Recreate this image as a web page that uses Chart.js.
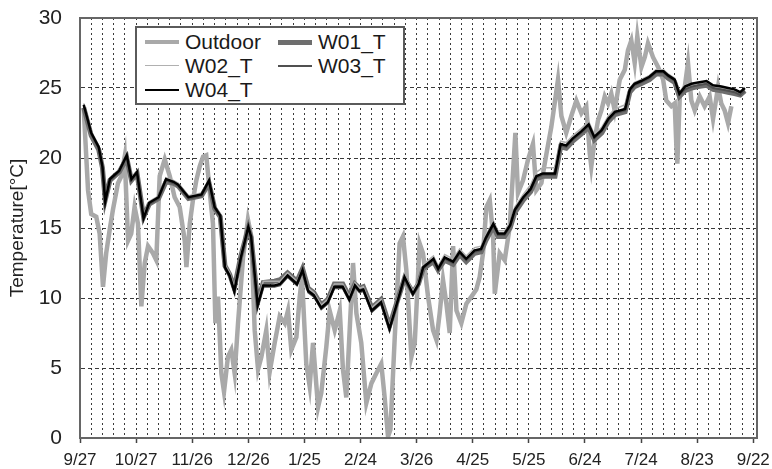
<!DOCTYPE html>
<html>
<head>
<meta charset="utf-8">
<script src="https://cdn.jsdelivr.net/npm/chart.js@4.4.1/dist/chart.umd.min.js"></script>
<style>
  html, body { margin: 0; padding: 0; background: #fff; }
  #wrap { position: relative; width: 772px; height: 469px; }
  #legend { position: absolute; left: 135px; top: 26px; width: 266px; height: 75px;
    border: 2px solid #5a5a5a; background: #fff; font-family: "Liberation Sans", Arial, sans-serif;
    font-size: 21px; color: #1a1a1a; }
  .li { position: absolute; height: 24px; line-height: 24px; white-space: nowrap; }
  .sw { position: absolute; top: 50%; left: 0; width: 34px; }
  .tx { position: absolute; left: 40px; top: 0; }
</style>
</head>
<body>
<div id="wrap">
  <canvas id="c" width="772" height="469"></canvas>
  <div id="legend"></div>
</div>
<script>
// ---- tick labels (x axis, every 30 days from 9/27) ----
const xTickLabels = ['9/27','10/27','11/26','12/26','1/25','2/24','3/26','4/25','5/25','6/24','7/24','8/23','9/22'];
const seriesNames = ['Outdoor','W01_T','W02_T','W03_T','W04_T'];

// ---- outdoor temperature: days since 9/27, value [°C] ----
const outdoorDays = [2,4.3,6,8.7,10.5,12.3,14,15.9,17.6,20.3,22.1,23.9,25.7,27.4,29.2,31,32.8,34.6,36.4,39,
  40.8,42.6,45.3,48,50.6,53.3,56,56.9,58.7,60.4,62.2,64,65.8,67.5,69.3,71.1,72.4,73.8,75.6,77,
  79.1,80.9,82.7,84.5,87.2,89.8,91.6,93.4,95.2,97,99.6,101.4,104.1,106.8,109.5,111.2,113,115.7,117.5,118.7,
  121,122.8,124.6,127.3,129,131.7,133.5,136.2,138.9,140.6,142.4,144.2,146,147.8,150.4,153.1,155.8,158.4,161.1,162.9,
  164.7,166,168.3,170.9,172.7,174.5,177.2,179,181.6,183.4,186.1,188.8,190.6,192.3,194.1,195.9,197.7,199.5,201.3,203.9,
  206.6,209.3,211.9,213.7,215.5,217.3,219.1,220.9,221.8,224.4,227.1,229.8,231.6,232.8,234.2,236.9,239.6,242.2,244,246.7,
  249.4,252,253.8,255.6,257.4,260,262.7,265.4,268.1,270.7,272.6,273.4,275.2,277,278.8,280.6,282.4,284.1,285.9,288.6,
  291.3,293,294.8,296.6,298,300.2,302,303.7,306.4,309.1,311.8,313.5,316.2,318,318.9,319.4,320.7,323.4,325.1,326.9,
  328.7,331.4,334,336.7,338.5,341.2,342.9,344.7,346.5,348.3];
const outdoorTemp = [23.5,17.7,16.0,15.8,14.6,10.8,13.2,14.9,16.3,18.2,18.7,20.1,14.1,14.6,16.5,15.3,9.4,12.5,13.7,13.2,
  12.7,18.7,19.9,18.7,17.2,16.5,14.1,12.2,15.3,17.0,18.4,19.4,20.1,20.2,17.7,15.3,8.2,10.1,4.6,3.3,
  5.8,6.3,4.6,8.2,12.9,15.6,14.4,7.7,4.9,5.8,7.7,4.7,6.8,8.7,8.2,9.1,6.3,7.2,10.1,11.5,
  5.3,3.7,6.8,2.2,3.2,6.5,9.1,7.7,9.1,4.9,2.9,7.7,12.5,8.9,6.8,2.5,3.9,4.6,5.3,2.9,
  0.1,0.6,7.2,13.9,14.4,12.0,5.8,6.8,13.9,13.2,10.1,7.7,7.0,8.9,11.3,9.6,7.5,13.7,9.1,8.2,
  9.6,10.1,10.6,11.5,13.2,16.5,17.0,14.4,10.3,13.2,12.7,15.1,19.1,21.8,17.5,18.4,19.9,21.0,17.7,18.2,
  20.3,22.2,23.9,25.6,23.0,21.8,23.0,24.1,23.2,23.7,20.3,19.4,21.3,22.7,23.4,24.4,23.9,24.6,23.4,25.6,
  26.3,27.7,28.4,26.8,28.7,26.5,27.2,28.2,27.2,26.5,25.6,24.1,23.7,23.9,20.8,19.6,24.4,25.1,26.8,24.1,
  23.4,24.4,23.7,24.4,22.8,25.1,23.9,23.4,22.5,23.7];

// ---- indoor sensors: days since 9/27, values [°C] ----
const indoorDays = [2,6,10,12,13.5,16,18.5,21,25,27.5,
  30.5,34,37,42,46,50,52.5,58,65,69,
  72,75,77.5,80,82.5,86,90,91.5,95,98,
  104,107,111,116,119,122,125,129,132.5,136,
  140.5,144,147,149.5,151.5,156,161,165.5,169,173.5,
  178,181,183.5,189,191.5,195,199.5,203,206.5,211,
  214.5,217,221,223.5,227,230,232.5,237,241,244,
  247.5,254,257,260,263.5,268,272,275,279,282.5,
  286,291.5,294,296.5,300,304.5,308,312,314.5,318,
  320.5,323.5,327,330.5,335,338.5,343,346.5,350,353,
  355.5];
const w01 = [23.6,21.6,20.6,19.3,17.0,18.4,18.7,19.0,20.0,18.4,
  18.9,15.8,16.7,17.1,18.3,18.2,18.0,17.1,17.3,18.2,
  16.4,15.8,12.3,11.7,10.7,13.0,15.0,14.3,9.7,11.1,
  11.2,11.3,11.8,11.2,12.1,10.7,10.4,9.5,9.9,11.0,
  11.0,10.1,11.0,10.7,10.8,9.3,9.9,8.0,9.5,11.4,
  10.4,11.0,12.1,12.6,12.0,12.7,12.4,13.1,12.6,13.2,
  13.3,14.1,15.1,14.4,14.4,15.0,16.1,17.0,17.6,18.5,
  18.7,18.7,20.8,20.7,21.2,21.7,22.2,21.3,21.8,22.6,
  23.1,23.3,24.7,25.1,25.3,25.6,26.0,26.0,25.7,25.4,
  24.4,24.8,25.0,25.1,25.2,24.9,24.8,24.7,24.6,24.5,
  24.8];
const w02 = [23.9,21.9,20.9,19.5,17.1,18.6,18.9,19.2,20.3,18.6,
  19.1,15.9,16.9,17.3,18.6,18.4,18.2,17.3,17.5,18.5,
  16.6,16.0,12.4,11.8,10.8,13.1,15.2,14.5,9.8,11.2,
  11.2,11.2,11.8,11.2,12.1,10.7,10.4,9.5,9.9,11.0,
  11.0,10.1,11.1,10.7,10.8,9.3,9.9,8.0,9.6,11.7,
  10.5,11.2,12.4,13.0,12.3,13.1,12.8,13.5,13.0,13.6,
  13.7,14.5,15.5,14.8,14.8,15.4,16.5,17.4,18.1,19.0,
  19.3,19.3,21.2,21.1,21.6,22.1,22.6,21.7,22.2,23.0,
  23.5,23.8,25.0,25.4,25.6,25.9,26.3,26.3,26.0,25.7,
  24.8,25.0,25.2,25.3,25.4,25.1,25.0,24.9,24.8,24.6,
  24.9];
const w03 = [23.7,21.7,20.7,19.3,16.8,18.4,18.7,19.0,20.1,18.4,
  18.9,15.6,16.7,17.1,18.4,18.2,18.0,17.1,17.3,18.3,
  16.4,15.8,12.1,11.5,10.4,12.8,15.0,14.3,9.4,10.8,
  10.8,10.9,11.5,10.9,11.9,10.4,10.1,9.2,9.6,10.7,
  10.7,9.8,10.8,10.4,10.5,9.0,9.6,7.7,9.3,11.4,
  10.2,10.9,12.1,12.7,12.0,12.8,12.5,13.2,12.7,13.3,
  13.4,14.2,15.2,14.5,14.5,15.1,16.2,17.1,17.7,18.6,
  18.8,18.8,20.9,20.8,21.3,21.8,22.3,21.4,21.9,22.7,
  23.2,23.4,24.8,25.2,25.4,25.7,26.1,26.1,25.8,25.5,
  24.5,24.9,25.1,25.2,25.3,25.0,24.9,24.8,24.7,24.5,
  24.8];
const w04 = [23.8,21.8,20.8,19.4,16.9,18.5,18.8,19.1,20.2,18.5,
  19.0,15.7,16.8,17.2,18.5,18.3,18.1,17.2,17.4,18.4,
  16.5,15.9,12.2,11.6,10.5,12.9,15.1,14.4,9.5,10.9,
  10.9,11.0,11.6,11.0,12.0,10.5,10.2,9.3,9.7,10.8,
  10.8,9.9,10.9,10.5,10.6,9.1,9.7,7.8,9.4,11.5,
  10.3,11.0,12.2,12.8,12.1,12.9,12.6,13.3,12.8,13.4,
  13.5,14.3,15.3,14.6,14.6,15.2,16.3,17.2,17.8,18.7,
  18.9,18.9,21.0,20.9,21.4,21.9,22.4,21.5,22.0,22.8,
  23.3,23.5,24.9,25.3,25.5,25.8,26.2,26.2,25.9,25.6,
  24.6,25.1,25.3,25.4,25.5,25.2,25.1,25.0,24.9,24.7,
  25.0];

const FONT = '"Liberation Sans", Arial, sans-serif';
const pts = (xs, ys) => xs.map((x, i) => ({ x: x, y: ys[i] }));

const styles = [
  { color: '#a9a9a9', width: 4.5, order: 4 },
  { color: '#6e6e6e', width: 5, order: 3 },
  { color: '#b0b0b0', width: 1.5, order: 2 },
  { color: '#505050', width: 2, order: 1 },
  { color: '#000000', width: 2.5, order: 0 }
];
const seriesData = [
  pts(outdoorDays, outdoorTemp), pts(indoorDays, w01), pts(indoorDays, w02),
  pts(indoorDays, w03), pts(indoorDays, w04)
];

const boxPlugin = {
  id: 'box',
  afterDraw(chart) {
    const a = chart.chartArea, ctx = chart.ctx;
    ctx.save();
    ctx.strokeStyle = '#666';
    ctx.lineWidth = 2;
    ctx.strokeRect(a.left, a.top, a.right - a.left, a.bottom - a.top);
    ctx.restore();
  }
};

new Chart(document.getElementById('c'), {
  type: 'line',
  data: {
    datasets: seriesNames.map((name, i) => ({
      label: name,
      data: seriesData[i],
      borderColor: styles[i].color,
      borderWidth: styles[i].width,
      order: styles[i].order,
      pointRadius: 0,
      tension: 0,
      fill: false
    }))
  },
  options: {
    responsive: false,
    animation: false,
    parsing: true,
    layout: { padding: { top: 18, right: 15, left: 0, bottom: 0 } },
    plugins: { legend: { display: false }, tooltip: { enabled: false } },
    scales: {
      x: {
        type: 'linear',
        min: 0,
        max: 362,
        afterBuildTicks: (s) => {
          const t = [];
          for (let v = 0; v <= 360; v += 6) t.push({ value: v });
          s.ticks = t;
        },
        afterFit: (s) => { s.height = 31; s.paddingRight = 0; s.paddingLeft = 0; },
        ticks: {
          autoSkip: false,
          maxRotation: 0,
          padding: 7,
          color: '#222',
          font: { family: FONT, size: 17 },
          callback: (v) => (v % 30 === 0 ? xTickLabels[v / 30] : '')
        },
        grid: {
          color: (c) => (c.tick && c.tick.value === 0 ? 'transparent' : '#3a3a3a'),
          lineWidth: 1,
          tickLength: 5,
          tickColor: (c) => (c.tick && c.tick.value % 30 === 0 ? '#444' : 'transparent'),
          tickWidth: 1.5
        },
        border: { display: true, color: '#666', width: 2, dash: [2, 3] }
      },
      y: {
        min: 0,
        max: 30,
        afterFit: (s) => { s.width = 80; s.paddingTop = 0; s.paddingBottom = 0; },
        ticks: {
          stepSize: 5,
          padding: 18,
          color: '#222',
          font: { family: FONT, size: 21 }
        },
        grid: {
          color: '#3a3a3a',
          lineWidth: 1,
          drawTicks: false
        },
        border: { display: true, color: '#666', width: 2, dash: [4, 3] },
        title: {
          display: true,
          text: 'Temperature[°C]',
          color: '#222',
          font: { family: FONT, size: 19 },
          padding: { top: 6, bottom: 0 }
        }
      }
    }
  },
  plugins: [boxPlugin]
});

// ---- HTML legend (two columns, boxed) ----
const legend = document.getElementById('legend');
const legendPos = [[8, 2], [141, 2], [8, 26], [141, 26], [8, 50]];
seriesNames.forEach((name, i) => {
  const item = document.createElement('div');
  item.className = 'li';
  item.style.left = legendPos[i][0] + 'px';
  item.style.top = legendPos[i][1] + 'px';
  const sw = document.createElement('div');
  sw.className = 'sw';
  sw.style.borderTop = styles[i].width + 'px solid ' + styles[i].color;
  sw.style.marginTop = (-styles[i].width / 2) + 'px';
  const tx = document.createElement('div');
  tx.className = 'tx';
  tx.textContent = name;
  item.appendChild(sw);
  item.appendChild(tx);
  legend.appendChild(item);
});
</script>
</body>
</html>
